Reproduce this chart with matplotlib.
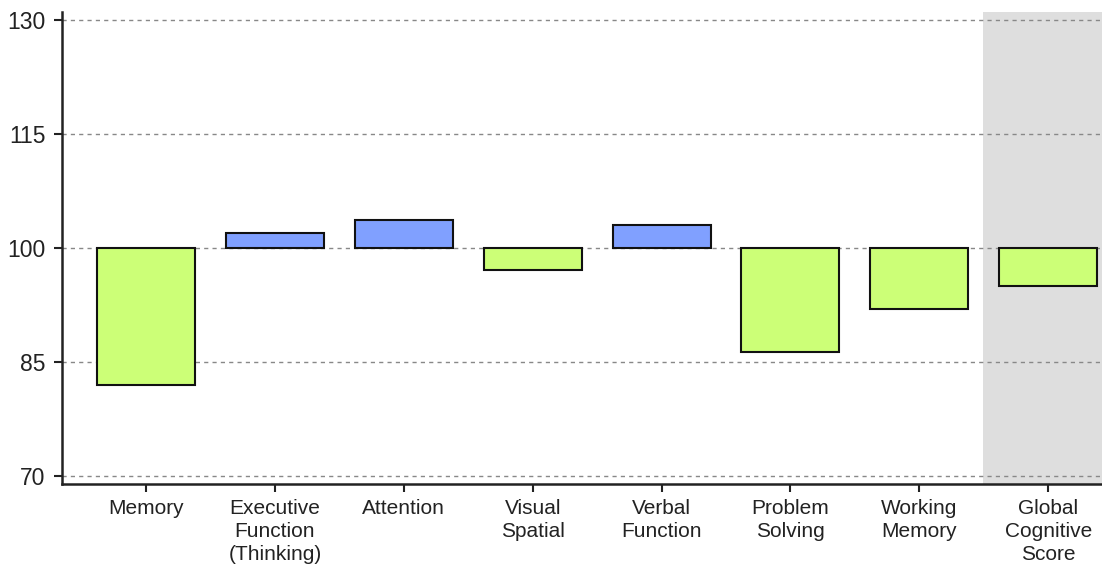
import matplotlib
matplotlib.use("Agg")
import matplotlib.pyplot as plt

# scores (baseline 100)
domains = ["Memory", "Executive\nFunction\n(Thinking)", "Attention", "Visual\nSpatial",
           "Verbal\nFunction", "Problem\nSolving", "Working\nMemory", "Global\nCognitive\nScore"]
scores = [82.0, 102.0, 103.7, 97.1, 103.0, 86.3, 92.0, 95.0]
baseline = 100
yticks = [70, 85, 100, 115, 130]

green = "#CCFF77"
blue = "#80A0FF"

plt.rcParams["font.family"] = ["Liberation Sans", "DejaVu Sans"]

fig = plt.figure(figsize=(11.02, 5.69), dpi=100)
ax = fig.add_axes([62 / 1102, 1 - 484 / 569, 1 - 62 / 1102, (484 - 12) / 569])

x = list(range(len(domains)))
heights = [s - baseline for s in scores]
colors = [blue if h > 0 else green for h in heights]

# global score gets a gray background
ax.axvspan(6.49, 7.5, color="#DEDEDE", zorder=0, lw=0)

for y in yticks:
    ax.axhline(y, color="#888888", ls=(0, (3, 3)), lw=1, zorder=1)

ax.bar(x, heights, bottom=baseline, width=0.76, color=colors,
       edgecolor="#111111", linewidth=1.5, zorder=3)

ax.set_xlim(-0.652, 7.417)
ax.set_ylim(68.95, 131.1)
ax.set_yticks(yticks)
ax.set_xticks(x)
ax.set_xticklabels(domains, fontsize=15, linespacing=1.25)
ax.tick_params(axis="y", labelsize=16.5, length=6, width=1.5, pad=6, colors="#222222")
ax.tick_params(axis="x", length=6, width=1.5, pad=5, colors="#222222")

for s in ["top", "right"]:
    ax.spines[s].set_visible(False)
for s in ["left", "bottom"]:
    ax.spines[s].set_linewidth(1.8)
    ax.spines[s].set_color("#222222")

plt.savefig("out.png", dpi=100)
